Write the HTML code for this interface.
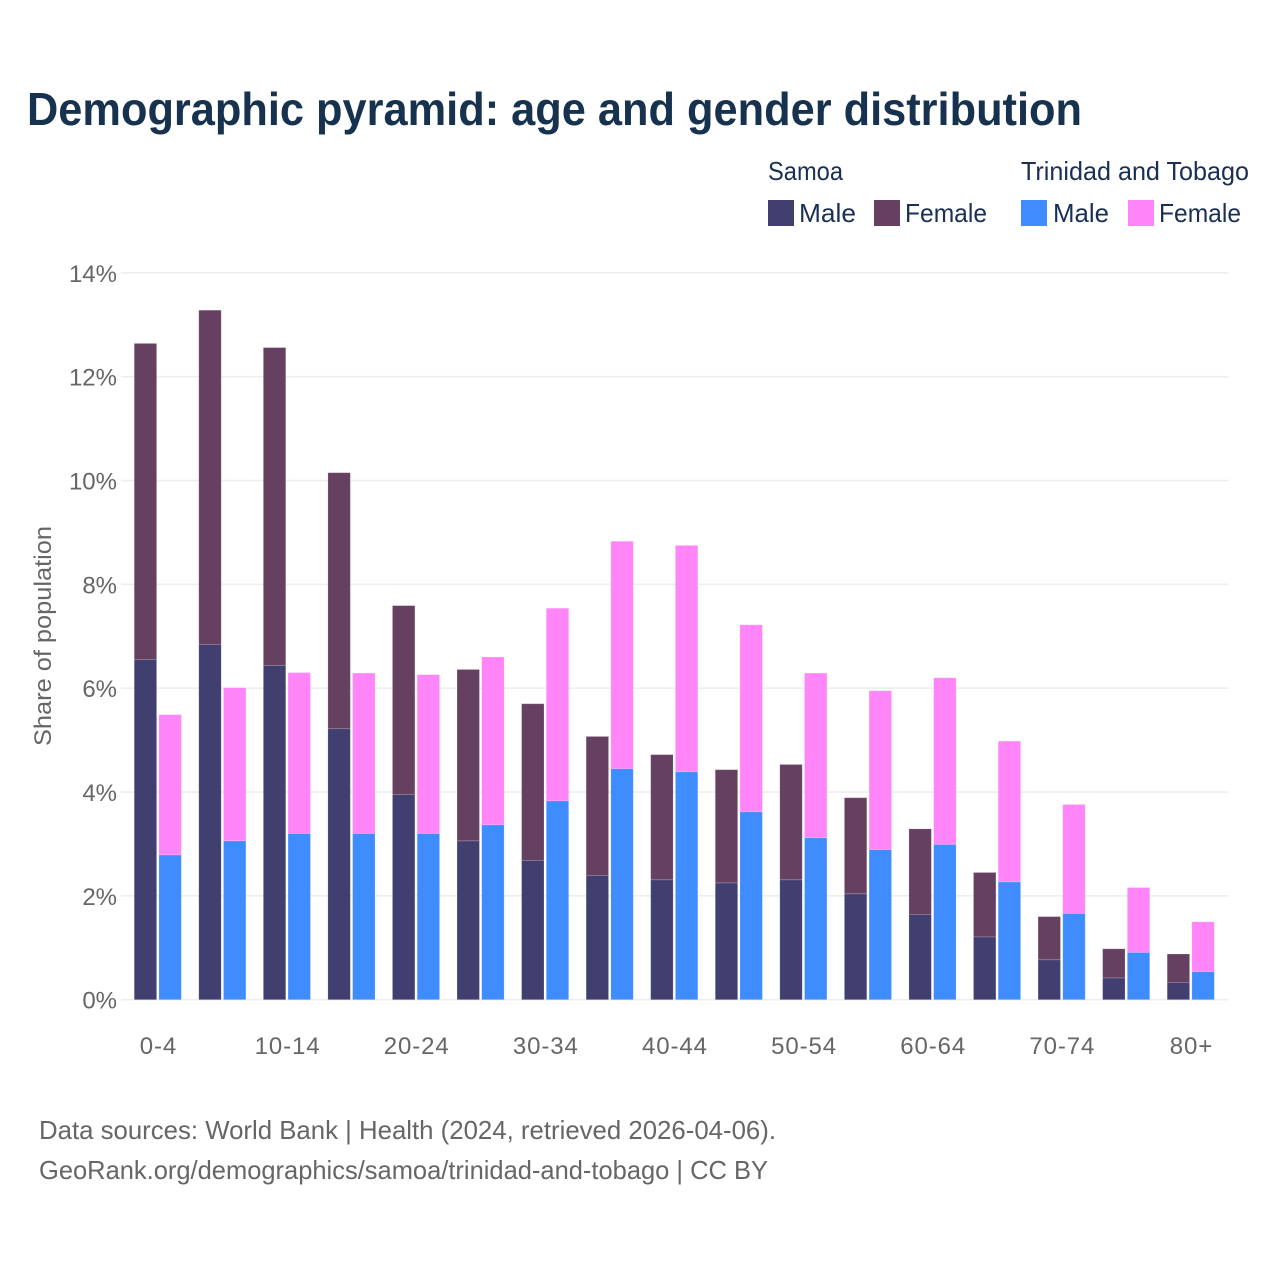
<!DOCTYPE html>
<html lang="en">
<head>
<meta charset="utf-8">
<title>Demographic pyramid</title>
<style>
html,body{margin:0;padding:0;background:#fff;width:1280px;height:1280px;overflow:hidden}
svg{display:block}
text{font-family:"Liberation Sans",sans-serif}
</style>
</head>
<body>
<svg id="chart" xmlns="http://www.w3.org/2000/svg" width="1280" height="1280" viewBox="0 0 1280 1280">
  <rect x="0" y="0" width="1280" height="1280" fill="#fff"/>
  <text x="27" y="125" font-size="46" font-weight="700" fill="#17324f" textLength="1055" lengthAdjust="spacingAndGlyphs">Demographic pyramid: age and gender distribution</text>

  <g font-size="26" fill="#1a2f55">
    <text x="768" y="180" textLength="75" lengthAdjust="spacingAndGlyphs">Samoa</text>
    <text x="1021" y="180" textLength="228" lengthAdjust="spacingAndGlyphs">Trinidad and Tobago</text>
    <rect x="768" y="200" width="26" height="26" fill="#413f70"/>
    <text x="799" y="222" textLength="57" lengthAdjust="spacingAndGlyphs">Male</text>
    <rect x="874" y="200" width="26" height="26" fill="#664061"/>
    <text x="905" y="222" textLength="82" lengthAdjust="spacingAndGlyphs">Female</text>
    <rect x="1021" y="200" width="26" height="26" fill="#3f8cff"/>
    <text x="1053" y="222" textLength="56" lengthAdjust="spacingAndGlyphs">Male</text>
    <rect x="1128" y="200" width="26" height="26" fill="#ff85f8"/>
    <text x="1159" y="222" textLength="82" lengthAdjust="spacingAndGlyphs">Female</text>
  </g>

  <g id="grid"></g>
  <g id="bars"></g>
  <g id="yticks"></g>
  <g id="xticks"></g>

  <text transform="translate(51,636) rotate(-90)" text-anchor="middle" font-size="24" fill="#666" textLength="220" lengthAdjust="spacingAndGlyphs">Share of population</text>

  <text x="39" y="1139" font-size="26" fill="#666" textLength="737" lengthAdjust="spacingAndGlyphs">Data sources: World Bank | Health (2024, retrieved 2026-04-06).</text>
  <text x="39" y="1179" font-size="26" fill="#666" textLength="729" lengthAdjust="spacingAndGlyphs">GeoRank.org/demographics/samoa/trinidad-and-tobago | CC BY</text>
</svg>
<script>
const categories = ["0-4","5-9","10-14","15-19","20-24","25-29","30-34","35-39","40-44","45-49","50-54","55-59","60-64","65-69","70-74","75-79","80+"];
const samoaMale = [6.55,6.84,6.44,5.22,3.95,3.06,2.68,2.39,2.31,2.25,2.31,2.04,1.64,1.21,0.77,0.42,0.33];
const samoaFemale = [6.09,6.44,6.12,4.93,3.64,3.30,3.02,2.68,2.41,2.18,2.22,1.85,1.65,1.24,0.83,0.56,0.55];
const trinidadMale = [2.79,3.06,3.20,3.20,3.20,3.37,3.83,4.45,4.39,3.62,3.12,2.89,2.99,2.27,1.66,0.91,0.54];
const trinidadFemale = [2.70,2.95,3.10,3.09,3.06,3.23,3.71,4.38,4.36,3.60,3.17,3.06,3.21,2.71,2.10,1.25,0.96];
const yTickValues = [0,2,4,6,8,10,12,14];
const yTickLabels = ["0%","2%","4%","6%","8%","10%","12%","14%"];
const xTickLabels = ["0-4","","10-14","","20-24","","30-34","","40-44","","50-54","","60-64","","70-74","","80+"];

const NS = "http://www.w3.org/2000/svg";
const plotLeft = 125.5, plotStep = 64.56;
const gridLeft = 121, gridRight = 1228.5;
const yZero = 999.7, yPerUnit = 51.92;
const barWidth = 22.4, barGap = 2.3;

function yScale(v){ return yZero - v * yPerUnit; }
function xBand(i){ return plotLeft + plotStep * i; }
function bandCenter(i){ return xBand(i) + plotStep / 2; }

function addBar(parent, name, x, v0, v1, color){
  const r = document.createElementNS(NS, "rect");
  
  
  r.setAttribute("x", x);
  r.setAttribute("y", yScale(v1));
  r.setAttribute("width", barWidth);
  r.setAttribute("height", yScale(v0) - yScale(v1));
  r.setAttribute("fill", color);
  r.setAttribute("stroke", "#fff");
  r.setAttribute("stroke-opacity", "0.2");
  r.setAttribute("stroke-width", "0.8");
  parent.appendChild(r);
}

const gridGroup = document.getElementById("grid");
const yGroup = document.getElementById("yticks");
yTickValues.forEach(function(v, i){
  const line = document.createElementNS(NS, "line");
  
  
  line.setAttribute("x1", gridLeft);
  line.setAttribute("x2", gridRight);
  line.setAttribute("y1", yScale(v));
  line.setAttribute("y2", yScale(v));
  line.setAttribute("stroke", "#eeeeee");
  line.setAttribute("stroke-width", "1.6");
  gridGroup.appendChild(line);
  const t = document.createElementNS(NS, "text");
  
  
  t.setAttribute("x", 117);
  t.setAttribute("y", yScale(v) + 9);
  t.setAttribute("text-anchor", "end");
  t.setAttribute("font-size", "24");
  t.setAttribute("fill", "#666");
  t.textContent = yTickLabels[i];
  yGroup.appendChild(t);
});

const barGroup = document.getElementById("bars");
categories.forEach(function(cat, i){
  const x1 = bandCenter(i) - barWidth - barGap / 2;
  const x2 = bandCenter(i) + barGap / 2;
  addBar(barGroup, "bar-samoa-male-" + cat, x1, 0, samoaMale[i], "#413f70");
  addBar(barGroup, "bar-samoa-female-" + cat, x1, samoaMale[i], samoaMale[i] + samoaFemale[i], "#664061");
  addBar(barGroup, "bar-trinidad-male-" + cat, x2, 0, trinidadMale[i], "#3f8cff");
  addBar(barGroup, "bar-trinidad-female-" + cat, x2, trinidadMale[i], trinidadMale[i] + trinidadFemale[i], "#ff85f8");
});

const xGroup = document.getElementById("xticks");
xTickLabels.forEach(function(label, i){
  if (!label) return;
  const t = document.createElementNS(NS, "text");
  
  
  t.setAttribute("x", bandCenter(i) + 0.7);
  t.setAttribute("y", 1054);
  t.setAttribute("text-anchor", "middle");
  t.setAttribute("font-size", "24");
  t.setAttribute("letter-spacing", "0.9");
  t.setAttribute("fill", "#666");
  t.textContent = label;
  xGroup.appendChild(t);
});
</script>
</body>
</html>
